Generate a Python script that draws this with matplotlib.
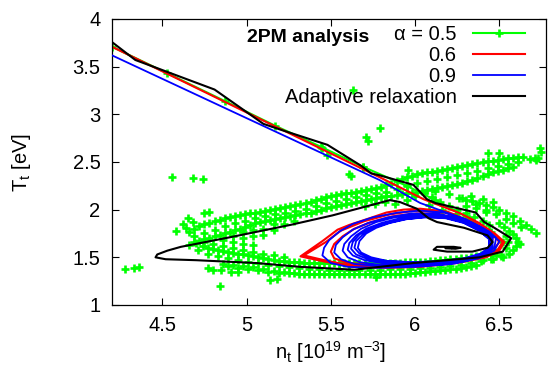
import numpy as np
import matplotlib
matplotlib.use("Agg")
import matplotlib.pyplot as plt

plt.rcParams['font.family'] = ['Liberation Sans', 'DejaVu Sans']
plt.rcParams['mathtext.fontset'] = 'custom'
plt.rcParams['mathtext.rm'] = 'Liberation Sans'
plt.rcParams['mathtext.it'] = 'Liberation Sans:italic'

# ---- data: (n_t, T_t) pairs ----
# alpha = 0.5 : points along the descending branch (drawn as line + points)
green_diag = [(4.20, 3.71), (4.53, 3.43), (4.87, 3.14), (5.17, 2.88), (5.44, 2.66),
              (5.69, 2.45), (5.95, 2.25), (6.12, 2.10), (6.30, 1.93), (6.45, 1.77), (6.52, 1.66)]

# alpha = 0.5 : scattered cloud, upper arm
green_upper = [(4.66, 1.77), (4.72, 1.83), (4.78, 1.86), (4.84, 1.89), (4.90, 1.92), (4.96, 1.94),
               (5.02, 1.96), (5.08, 1.98), (5.14, 2.00), (5.20, 2.02), (5.26, 2.04), (5.32, 2.06),
               (5.38, 2.08), (5.44, 2.11), (5.50, 2.14), (5.56, 2.16), (5.62, 2.18), (5.68, 2.20),
               (5.74, 2.22), (5.80, 2.24), (5.86, 2.27), (5.92, 2.32), (5.98, 2.35), (6.04, 2.38),
               (6.10, 2.40), (6.16, 2.42), (6.22, 2.44), (6.28, 2.46), (6.34, 2.48), (6.40, 2.50),
               (6.46, 2.51), (6.52, 2.53), (6.58, 2.54), (6.64, 2.55),
               (4.69, 1.80), (4.75, 1.85), (4.81, 1.88), (4.87, 1.91), (4.93, 1.93), (4.99, 1.95),
               (5.05, 1.97), (5.11, 1.99), (5.17, 2.01), (5.23, 2.03), (5.29, 2.05), (5.35, 2.07),
               (5.41, 2.10), (5.47, 2.13), (5.53, 2.15), (5.59, 2.17), (5.65, 2.19), (5.71, 2.21),
               (5.77, 2.23), (5.83, 2.26), (5.89, 2.30), (5.95, 2.34), (6.01, 2.37), (6.07, 2.39),
               (6.13, 2.41), (6.19, 2.43), (6.25, 2.45), (6.31, 2.47), (6.37, 2.49), (6.43, 2.51),
               (6.49, 2.52), (6.55, 2.54), (6.61, 2.55),
               (4.69, 1.72), (4.75, 1.76), (4.81, 1.79), (4.87, 1.83), (4.93, 1.86), (4.99, 1.88),
               (5.05, 1.91), (5.11, 1.93), (5.17, 1.95), (5.23, 1.97), (5.29, 1.99), (5.35, 2.01),
               (5.41, 2.04), (5.47, 2.07), (5.53, 2.09), (5.59, 2.11), (5.65, 2.13), (5.71, 2.15),
               (5.77, 2.17), (5.83, 2.19), (5.89, 2.22), (5.95, 2.26), (6.01, 2.28), (6.07, 2.30),
               (6.13, 2.32), (6.19, 2.34), (6.25, 2.36), (6.31, 2.38), (6.37, 2.41), (6.43, 2.44),
               (6.49, 2.46), (6.55, 2.48), (6.61, 2.50),
               (4.69, 1.66), (4.75, 1.69), (4.81, 1.72), (4.87, 1.75), (4.93, 1.79), (4.99, 1.82),
               (5.05, 1.86), (5.11, 1.88), (5.17, 1.90), (5.23, 1.92), (5.29, 1.94), (5.35, 1.96),
               (5.41, 1.99), (5.47, 2.02), (5.53, 2.04), (5.59, 2.06), (5.65, 2.08), (5.71, 2.10),
               (5.77, 2.12), (5.83, 2.14), (5.89, 2.15), (5.95, 2.17), (6.01, 2.19), (6.07, 2.21),
               (6.13, 2.23), (6.19, 2.25), (6.25, 2.27), (6.31, 2.30), (6.37, 2.33), (6.43, 2.37),
               (6.49, 2.41), (6.55, 2.44),
               (4.66, 1.63), (4.72, 1.67), (4.78, 1.70), (4.84, 1.73), (4.90, 1.77), (4.96, 1.80),
               (5.02, 1.84), (5.08, 1.87), (5.14, 1.89), (5.20, 1.91), (5.26, 1.93), (5.32, 1.95),
               (5.38, 1.97), (5.44, 2.00), (5.50, 2.03), (5.56, 2.05), (5.62, 2.07), (5.68, 2.09),
               (5.74, 2.11), (5.80, 2.13), (5.86, 2.14), (5.92, 2.16), (5.98, 2.18), (6.04, 2.20),
               (6.10, 2.22), (6.16, 2.24), (6.22, 2.26), (6.28, 2.28), (6.34, 2.31), (6.40, 2.35),
               (6.46, 2.39), (6.52, 2.42), (6.58, 2.45),
               (6.68, 2.53), (6.71, 2.54), (6.73, 2.54)]

# alpha = 0.5 : scattered cloud, lower arm
green_lower = [(4.74, 1.62), (4.80, 1.59), (4.86, 1.57), (4.92, 1.55), (4.98, 1.53), (5.04, 1.51),
               (5.10, 1.49), (5.16, 1.47), (5.22, 1.46), (5.28, 1.45), (5.34, 1.44), (5.40, 1.44),
               (5.46, 1.44), (5.52, 1.44), (5.58, 1.44), (5.64, 1.44), (5.70, 1.44), (5.76, 1.44),
               (5.82, 1.44), (5.88, 1.44), (5.94, 1.45), (6.00, 1.45), (6.06, 1.45), (6.12, 1.46),
               (6.18, 1.47), (6.24, 1.48), (6.30, 1.49), (6.36, 1.51), (6.42, 1.53), (6.48, 1.56),
               (4.77, 1.60), (4.83, 1.58), (4.89, 1.56), (4.95, 1.54), (5.01, 1.52), (5.07, 1.50),
               (5.13, 1.48), (5.19, 1.46), (5.25, 1.45), (5.31, 1.45), (5.37, 1.44), (5.43, 1.44),
               (5.49, 1.44), (5.55, 1.44), (5.61, 1.44), (5.67, 1.44), (5.73, 1.44), (5.79, 1.44),
               (5.85, 1.44), (5.91, 1.44), (5.97, 1.45), (6.03, 1.45), (6.09, 1.46), (6.15, 1.47),
               (6.21, 1.48), (6.27, 1.49), (6.33, 1.50), (6.39, 1.52), (6.45, 1.54),
               (4.71, 1.58), (4.77, 1.54), (4.83, 1.51), (4.89, 1.49), (4.95, 1.47), (5.01, 1.45),
               (5.07, 1.44), (5.13, 1.42), (5.19, 1.41), (5.25, 1.40), (5.31, 1.39), (5.37, 1.38),
               (5.43, 1.38), (5.49, 1.37), (5.55, 1.37), (5.61, 1.37), (5.67, 1.37), (5.73, 1.37),
               (5.79, 1.37), (5.85, 1.38), (5.91, 1.38), (5.97, 1.38), (6.03, 1.39), (6.09, 1.39),
               (6.15, 1.40), (6.21, 1.41), (6.27, 1.42), (6.33, 1.44), (6.39, 1.46), (6.45, 1.48),
               (6.51, 1.51),
               (4.89, 1.41), (4.95, 1.39), (5.01, 1.38), (5.07, 1.37), (5.13, 1.35), (5.19, 1.34),
               (5.25, 1.34), (5.31, 1.33), (5.37, 1.33), (5.43, 1.32), (5.49, 1.32), (5.55, 1.32),
               (5.61, 1.32), (5.67, 1.32), (5.73, 1.33), (5.79, 1.33), (5.85, 1.33), (5.91, 1.33),
               (5.97, 1.34), (6.03, 1.35), (6.09, 1.36), (6.15, 1.37), (6.21, 1.38), (6.27, 1.39),
               (6.33, 1.41),
               (4.86, 1.43), (4.92, 1.42), (4.98, 1.41), (5.04, 1.40), (5.10, 1.38), (5.16, 1.36),
               (5.22, 1.35), (5.28, 1.34), (5.34, 1.33), (5.40, 1.33), (5.46, 1.32), (5.52, 1.32),
               (5.58, 1.32), (5.64, 1.32), (5.70, 1.32), (5.76, 1.33), (5.82, 1.33), (5.88, 1.33),
               (5.94, 1.33), (6.00, 1.34), (6.06, 1.35), (6.12, 1.36), (6.18, 1.37), (6.24, 1.38),
               (6.30, 1.40), (6.36, 1.42)]

# alpha = 0.5 : filled left end, right end, region near the loop top and the "horn"
green_fill = [(4.70, 1.65), (4.75, 1.66), (4.80, 1.64), (4.86, 1.62), (4.86, 1.68), (4.92, 1.60),
              (4.92, 1.66), (4.92, 1.72), (4.98, 1.58), (4.98, 1.64), (4.98, 1.70), (4.98, 1.77),
              (5.04, 1.56), (5.04, 1.63), (5.04, 1.72), (5.04, 1.79), (5.10, 1.54), (5.10, 1.73),
              (5.10, 1.80), (5.16, 1.52), (5.16, 1.79), (5.16, 1.85), (5.22, 1.50), (5.22, 1.85),
              (5.28, 1.88),
              (6.52, 1.50), (6.56, 1.54), (6.58, 1.58), (6.60, 1.62), (6.61, 1.66), (6.60, 1.70),
              (6.58, 1.74), (6.56, 1.78), (6.53, 1.82), (6.50, 1.86), (6.54, 1.60), (6.55, 1.66),
              (6.54, 1.72), (6.48, 1.52), (6.46, 1.48), (6.62, 1.64), (6.40, 1.47),
              (5.95, 2.10), (6.00, 2.14), (6.05, 2.17), (6.10, 2.13), (6.15, 2.08), (6.20, 2.04),
              (6.25, 2.00), (6.30, 1.96), (6.35, 1.92), (6.40, 1.88), (6.44, 1.84), (6.08, 2.05),
              (6.16, 2.00), (6.24, 1.95), (6.32, 1.90), (6.12, 2.20), (6.20, 2.16), (6.28, 2.12),
              (6.36, 2.06), (6.42, 2.00), (5.70, 2.04), (5.76, 2.06), (5.82, 2.08), (5.88, 2.06),
              (6.26, 2.12), (6.30, 2.10), (6.34, 2.09), (6.38, 2.07), (6.42, 2.05), (6.46, 2.03),
              (6.50, 2.00), (6.54, 1.97), (6.58, 1.93), (6.62, 1.88), (6.66, 1.84), (6.69, 1.80),
              (6.72, 1.76), (6.30, 2.04), (6.36, 2.02), (6.42, 1.98), (6.48, 1.95), (6.54, 1.90),
              (6.58, 1.86), (6.63, 1.82), (6.46, 2.08), (6.40, 2.11), (6.33, 2.14)]

# alpha = 0.5 : isolated points
green_stray = [(4.28, 1.38), (4.33, 1.39), (4.36, 1.40), (4.56, 2.34), (4.68, 2.33), (4.74, 2.32),
               (4.75, 1.97), (4.78, 1.98), (4.65, 1.91), (4.68, 1.87), (4.62, 1.85), (4.58, 1.78),
               (4.64, 1.81), (4.77, 1.39), (4.80, 1.37), (4.85, 1.37), (4.91, 1.35), (4.95, 1.35),
               (4.84, 1.20), (5.14, 1.26), (5.18, 1.27), (5.77, 1.29),
               (5.63, 3.26), (5.79, 2.86), (5.71, 2.76), (5.72, 2.72), (5.45, 2.65), (5.48, 2.57),
               (5.69, 2.45), (5.61, 2.37), (5.62, 2.35), (5.96, 2.42), (6.43, 2.59), (6.50, 2.59),
               (6.74, 2.65), (6.75, 2.60), (6.72, 2.52)]

# alpha = 0.6
red_path = [(4.20, 3.71), (5.00, 3.02), (5.79, 2.34), (6.05, 2.11), (6.27, 1.96), (6.38, 1.86),
            (6.48, 1.74), (6.53, 1.66), (6.50, 1.57), (6.42, 1.50), (6.25, 1.44), (6.03, 1.40),
            (5.83, 1.39), (5.63, 1.40), (5.45, 1.46), (5.32, 1.51), (5.45, 1.67), (5.54, 1.79),
            (5.61, 1.84), (5.73, 1.91), (5.83, 1.97), (5.93, 2.00), (6.03, 2.01), (6.19, 1.98),
            (6.34, 1.87), (6.46, 1.76), (6.52, 1.66), (6.49, 1.58), (6.40, 1.50), (6.22, 1.45),
            (6.00, 1.42), (5.80, 1.41), (5.60, 1.42), (5.46, 1.47), (5.34, 1.52), (5.47, 1.66),
            (5.56, 1.78), (5.70, 1.88), (5.85, 1.95), (6.00, 1.99), (6.18, 1.97), (6.33, 1.87),
            (6.45, 1.76), (6.50, 1.66), (6.46, 1.57), (6.36, 1.49), (6.18, 1.44), (5.96, 1.42),
            (5.76, 1.42), (5.60, 1.44), (5.52, 1.49), (5.50, 1.56), (5.52, 1.64), (5.57, 1.72),
            (5.64, 1.80), (5.74, 1.87), (5.87, 1.93), (6.01, 1.96), (6.15, 1.95), (6.28, 1.89),
            (6.39, 1.80), (6.46, 1.70), (6.45, 1.60)]

# alpha = 0.9
blue_path = [(4.20, 3.62), (5.00, 2.96), (5.79, 2.31), (6.03, 2.07), (6.28, 1.91), (6.44, 1.77),
             (6.50, 1.67),
             (6.47, 1.57), (6.38, 1.49), (6.22, 1.43), (6.00, 1.40), (5.78, 1.39), (5.60, 1.40),
             (5.50, 1.44), (5.45, 1.52), (5.46, 1.60), (5.49, 1.68), (5.55, 1.77), (5.63, 1.85),
             (5.75, 1.92), (5.90, 1.97), (6.03, 1.99), (6.17, 1.97), (6.30, 1.90), (6.41, 1.80),
             (6.48, 1.70),
             (6.47, 1.60), (6.41, 1.52), (6.30, 1.46), (6.14, 1.42), (5.95, 1.41), (5.77, 1.41),
             (5.64, 1.43), (5.56, 1.48), (5.52, 1.55), (5.53, 1.63), (5.57, 1.71), (5.63, 1.79),
             (5.72, 1.86), (5.84, 1.92), (5.98, 1.96), (6.12, 1.96), (6.26, 1.91), (6.38, 1.82),
             (6.46, 1.71),
             (6.46, 1.61), (6.41, 1.53), (6.31, 1.47), (6.15, 1.43), (5.96, 1.42), (5.79, 1.42),
             (5.67, 1.45), (5.60, 1.50), (5.57, 1.57), (5.58, 1.64), (5.62, 1.72), (5.68, 1.80),
             (5.77, 1.87), (5.88, 1.92), (6.01, 1.95), (6.14, 1.95), (6.27, 1.90), (6.38, 1.81),
             (6.45, 1.71),
             (6.45, 1.61), (6.40, 1.53), (6.30, 1.47), (6.14, 1.44), (5.96, 1.43), (5.80, 1.44),
             (5.70, 1.47), (5.63, 1.52), (5.60, 1.58), (5.61, 1.65), (5.65, 1.73), (5.71, 1.80),
             (5.80, 1.86), (5.91, 1.91), (6.03, 1.94), (6.15, 1.94), (6.27, 1.89), (6.38, 1.80),
             (6.45, 1.70),
             (6.45, 1.61), (6.40, 1.53), (6.30, 1.48), (6.14, 1.45), (5.97, 1.44), (5.82, 1.45),
             (5.72, 1.48), (5.65, 1.53), (5.62, 1.59), (5.63, 1.66), (5.67, 1.74), (5.73, 1.80),
             (5.82, 1.86), (5.93, 1.90), (6.04, 1.93), (6.16, 1.93), (6.28, 1.88), (6.38, 1.79),
             (6.45, 1.70),
             (6.45, 1.61), (6.40, 1.54), (6.30, 1.48), (6.14, 1.45), (5.97, 1.45), (5.83, 1.46),
             (5.73, 1.49), (5.67, 1.54), (5.64, 1.60), (5.65, 1.67), (5.69, 1.74), (5.75, 1.81),
             (5.84, 1.86), (5.94, 1.90), (6.05, 1.92), (6.17, 1.92), (6.28, 1.87), (6.38, 1.78),
             (6.44, 1.69),
             (6.44, 1.61), (6.39, 1.54), (6.29, 1.49), (6.14, 1.46), (5.98, 1.45), (5.84, 1.46),
             (5.74, 1.50), (5.68, 1.55), (5.66, 1.60), (5.67, 1.67), (5.71, 1.75), (5.77, 1.81),
             (5.85, 1.86), (5.95, 1.90), (6.06, 1.92), (6.18, 1.91), (6.29, 1.86), (6.38, 1.78),
             (6.44, 1.69), (6.44, 1.61)]

# adaptive relaxation
black_path = [(4.20, 3.76), (4.34, 3.57), (4.81, 3.26), (5.10, 2.90), (5.20, 2.84), (5.48, 2.68),
              (5.68, 2.46), (5.74, 2.38), (5.79, 2.36), (5.99, 2.26), (6.07, 2.11), (6.12, 2.07),
              (6.36, 1.97), (6.41, 1.87), (6.47, 1.81), (6.57, 1.70), (6.52, 1.56), (6.38, 1.50),
              (6.19, 1.47), (5.99, 1.44), (5.79, 1.40), (5.64, 1.37), (5.32, 1.40), (5.06, 1.44),
              (4.70, 1.47), (4.52, 1.48), (4.46, 1.50), (4.47, 1.53), (4.53, 1.57), (4.61, 1.61),
              (4.90, 1.71), (5.26, 1.84), (5.51, 1.94), (5.85, 2.10), (5.91, 2.08), (6.01, 2.01),
              (6.08, 1.91), (6.13, 1.87), (6.29, 1.81), (6.43, 1.73), (6.46, 1.66), (6.43, 1.60),
              (6.34, 1.56), (6.19, 1.56), (6.11, 1.58), (6.13, 1.61), (6.23, 1.61), (6.27, 1.60),
              (6.24, 1.59), (6.18, 1.595), (6.19, 1.605), (6.23, 1.605), (6.22, 1.598)]

labels = ['α = 0.5', '0.6', '0.9', 'Adaptive relaxation']
x_ticks = [4.5, 5, 5.5, 6, 6.5]
y_ticks = [1, 1.5, 2, 2.5, 3, 3.5, 4]

GREEN, RED, BLUE, BLACK = '#00ff00', '#ff0000', '#0000ff', '#000000'
FS = 14.5

fig = plt.figure(figsize=(5.52, 3.68), dpi=100)
ax = fig.add_axes([0.2024, 0.1712, 0.7862, 0.7772])

cloud = np.array(green_upper + green_lower + green_fill + green_stray)
ax.plot(cloud[:, 0], cloud[:, 1], ls='none', marker='+', ms=6, mew=1.9, color=GREEN, zorder=1)
gd = np.array(green_diag)
h_g, = ax.plot(gd[:, 0], gd[:, 1], color=GREEN, lw=1.5, marker='+', ms=6, mew=1.9, zorder=1)

rp = np.array(red_path)
h_r, = ax.plot(rp[:, 0], rp[:, 1], color=RED, lw=1.5, zorder=2)
bp = np.array(blue_path)
h_b, = ax.plot(bp[:, 0], bp[:, 1], color=BLUE, lw=1.3, zorder=3)
kp = np.array(black_path)
h_k, = ax.plot(kp[:, 0], kp[:, 1], color=BLACK, lw=1.5, zorder=4)

ax.set_xlim(4.2, 6.775)
ax.set_ylim(1, 4)
ax.set_xticks(x_ticks)
ax.set_xticklabels(['4.5', '5', '5.5', '6', '6.5'])
ax.set_yticks(y_ticks)
ax.set_yticklabels(['1', '1.5', '2', '2.5', '3', '3.5', '4'])
ax.tick_params(direction='in', top=True, right=True, length=5, width=0.8,
               labelsize=FS, pad=8)
for s in ax.spines.values():
    s.set_linewidth(0.9)

fig.text(22 / 552, 1 - 163 / 368, r'T$_\mathrm{t}$ [eV]', rotation=90,
         ha='center', va='center', fontsize=FS)
fig.text(331 / 552, 1 - 352 / 368, r'n$_\mathrm{t}$ [10$^{19}$ m$^{-3}$]',
         ha='center', va='center', fontsize=FS)

ax.legend([h_g, h_r, h_b, h_k], labels, loc='upper right',
          bbox_to_anchor=(525 / 552, 1 - 25 / 368), bbox_transform=fig.transFigure,
          frameon=False, markerfirst=False, numpoints=1, handlelength=2.6,
          handletextpad=0.8, labelspacing=0.1, borderpad=0, borderaxespad=0,
          fontsize=FS)
fig.text(247 / 552, 1 - 37 / 368, '2PM analysis', weight='bold', fontsize=14,
         ha='left', va='center')

fig.savefig('out.png', dpi=100)
